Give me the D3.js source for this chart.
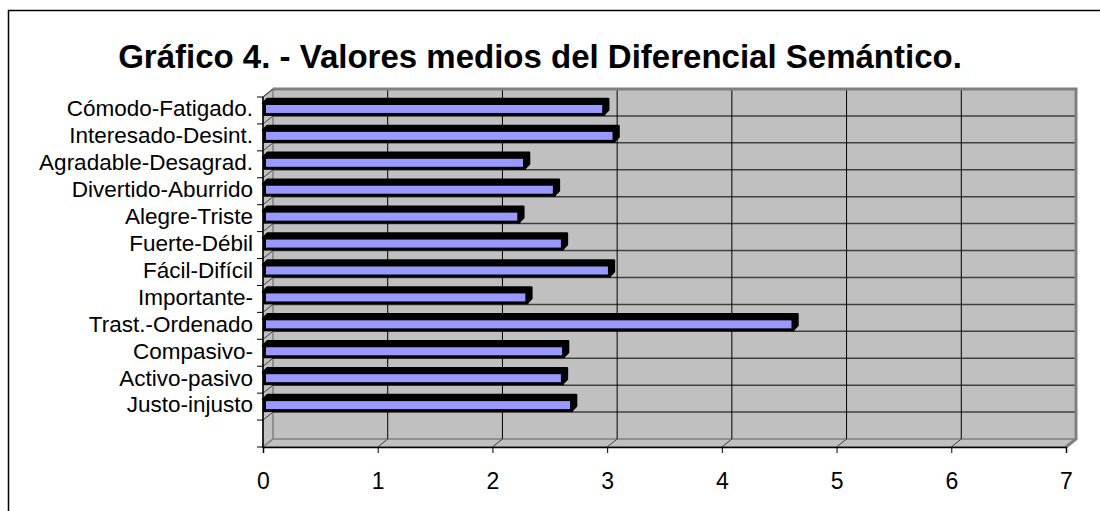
<!DOCTYPE html>
<html>
<head>
<meta charset="utf-8">
<script src="https://cdn.jsdelivr.net/npm/d3@7"></script>
<style>
  body { margin: 0; background: #fff; }
  text { font-family: Arial, "Liberation Sans", sans-serif; fill: #000; }
</style>
</head>
<body>
<div id="chart"></div>
<script>
// data, top to bottom as in the chart
var categories = ["Cómodo-Fatigado.", "Interesado-Desint.", "Agradable-Desagrad.", "Divertido-Aburrido",
  "Alegre-Triste", "Fuerte-Débil", "Fácil-Difícil", "Importante-", "Trast.-Ordenado",
  "Compasivo-", "Activo-pasivo", "Justo-injusto"]
var values = [2.97, 3.06, 2.28, 2.54, 2.23, 2.61, 3.02, 2.30, 4.62, 2.62, 2.61, 2.69]
var x_ticks = [0, 1, 2, 3, 4, 5, 6, 7]
var title = "Gráfico 4. - Valores medios del Diferencial Semántico."

var width = 1100, height = 511
// 3d depth of the walls
var dx = 10, dy = 8
var plot_left = 263, plot_right = 1066
var plot_top = 97, plot_bottom = 447

var svg = d3.select("#chart")
  .append("svg")
    .attr("width", width)
    .attr("height", height)

// outer frame (right & bottom run off the picture)
svg.append("rect")
  .attr("x", 8.5).attr("y", 10.5)
  .attr("width", 1100).attr("height", 520)
  .attr("fill", "#fff").attr("stroke", "#000").attr("stroke-width", 1.5)

svg.append("text")
  .attr("x", 540).attr("y", 68)
  .attr("text-anchor", "middle")
  .style("font-size", "33px").style("font-weight", "bold")
  .text(title)

var xScale = d3.scaleLinear().domain([0, 7]).range([plot_left, plot_right])

// one empty slot below the last category
var slots = categories.concat([" "])
var yScale = d3.scaleBand().domain(slots).range([plot_top, plot_bottom]).padding(0)
var bw = yScale.bandwidth()

var g = svg.append("g")

// back wall
g.append("rect")
  .attr("x", plot_left + dx).attr("y", plot_top - dy)
  .attr("width", plot_right - plot_left).attr("height", plot_bottom - plot_top)
  .attr("fill", "#c0c0c0")

// left wall
g.append("path")
  .attr("d", "M" + plot_left + "," + plot_top + "L" + (plot_left + dx) + "," + (plot_top - dy) +
    "L" + (plot_left + dx) + "," + (plot_bottom - dy) + "L" + plot_left + "," + plot_bottom + "Z")
  .attr("fill", "#c0c0c0").attr("stroke", "#808080").attr("stroke-width", 1.5)

// floor
g.append("path")
  .attr("d", "M" + plot_left + "," + plot_bottom + "L" + (plot_left + dx) + "," + (plot_bottom - dy) +
    "L" + (plot_right + dx) + "," + (plot_bottom - dy) + "L" + plot_right + "," + plot_bottom + "Z")
  .attr("fill", "#c0c0c0").attr("stroke", "#808080").attr("stroke-width", 1.5)

// horizontal grid on back wall + slant on left wall
var bounds = d3.range(slots.length + 1).map(function(i) { return plot_top + i * bw })
g.selectAll(".hgrid")
  .data(bounds.slice(1, -1))
  .enter().append("line")
    .attr("class", "hgrid")
    .attr("x1", plot_left + dx).attr("x2", plot_right + dx)
    .attr("y1", function(d) { return d - dy }).attr("y2", function(d) { return d - dy })
    .attr("stroke", "#404040").attr("stroke-width", 1.5)

g.selectAll(".lslant")
  .data(bounds.slice(0, -1))
  .enter().append("line")
    .attr("class", "lslant")
    .attr("x1", plot_left).attr("x2", plot_left + dx)
    .attr("y1", function(d) { return d }).attr("y2", function(d) { return d - dy })
    .attr("stroke", "#404040").attr("stroke-width", 1)

// vertical grid on back wall + slant on floor
g.selectAll(".vgrid")
  .data(x_ticks.slice(1, -1))
  .enter().append("line")
    .attr("class", "vgrid")
    .attr("x1", function(d) { return xScale(d) + dx }).attr("x2", function(d) { return xScale(d) + dx })
    .attr("y1", plot_top - dy).attr("y2", plot_bottom - dy)
    .attr("stroke", "#000").attr("stroke-width", 1)

g.selectAll(".fslant")
  .data(x_ticks.slice(1, -1))
  .enter().append("line")
    .attr("class", "fslant")
    .attr("x1", function(d) { return xScale(d) }).attr("x2", function(d) { return xScale(d) + dx })
    .attr("y1", plot_bottom).attr("y2", plot_bottom - dy)
    .attr("stroke", "#404040").attr("stroke-width", 1)

// back wall border top/right
g.append("path")
  .attr("d", "M" + (plot_left + dx) + "," + (plot_top - dy) + "L" + (plot_right + dx) + "," + (plot_top - dy) +
    "L" + (plot_right + dx) + "," + (plot_bottom - dy) + "L" + plot_right + "," + plot_bottom)
  .attr("fill", "none").attr("stroke", "#808080").attr("stroke-width", 3)

// bars (3d): top face, right face, front face
var bd = 4.5
var bars = g.selectAll(".bar")
  .data(values)
  .enter().append("g")
    .attr("class", "bar")

function frontTop(d, i) { return yScale(categories[i]) + bw / 2 - 7 }
var fh = 11

bars.append("path")
  .attr("d", function(d, i) {
    var y0 = frontTop(d, i), x0 = xScale(0), x1 = xScale(d)
    return "M" + x0 + "," + y0 + "L" + (x0 + bd) + "," + (y0 - bd) + "L" + (x1 + bd) + "," + (y0 - bd) +
      "L" + (x1 + bd) + "," + (y0 + fh - bd) + "L" + x1 + "," + (y0 + fh) + "L" + x1 + "," + y0 + "Z"
  })
  .attr("fill", "#000").attr("stroke", "#000").attr("stroke-width", 2.5)
  .attr("stroke-linejoin", "round")

bars.append("rect")
  .attr("x", xScale(0) + 1.5)
  .attr("y", function(d, i) { return frontTop(d, i) })
  .attr("width", function(d) { return xScale(d) - xScale(0) - 1.5 })
  .attr("height", fh)
  .attr("fill", "#9999ff").attr("stroke", "#000").attr("stroke-width", 3)

// axes in front
g.append("line")
  .attr("x1", plot_left).attr("x2", plot_left).attr("y1", plot_top).attr("y2", plot_bottom)
  .attr("stroke", "#000").attr("stroke-width", 1.5)
g.selectAll(".ytick")
  .data(bounds)
  .enter().append("line")
    .attr("class", "ytick")
    .attr("x1", plot_left - 6).attr("x2", plot_left)
    .attr("y1", function(d) { return d }).attr("y2", function(d) { return d })
    .attr("stroke", "#000").attr("stroke-width", 1)

g.selectAll(".ylabel")
  .data(categories)
  .enter().append("text")
    .attr("class", "ylabel")
    .attr("x", plot_left - 10)
    .attr("y", function(d) { return yScale(d) + bw / 2 - 2 })
    .attr("dy", "0.35em")
    .attr("text-anchor", "end")
    .style("font-size", "22.5px")
    .text(function(d) { return d })

var xAxis = d3.axisBottom(xScale).tickValues(x_ticks).tickFormat(d3.format("d")).tickSize(6).tickPadding(20)
var xg = g.append("g")
  .attr("transform", "translate(0," + plot_bottom + ")")
  .call(xAxis)
xg.select(".domain").attr("stroke-width", 1.5)
xg.selectAll("text").style("font-size", "23px").attr("fill", "#000")
xg.selectAll("line").attr("stroke", "#000")
</script>
</body>
</html>
